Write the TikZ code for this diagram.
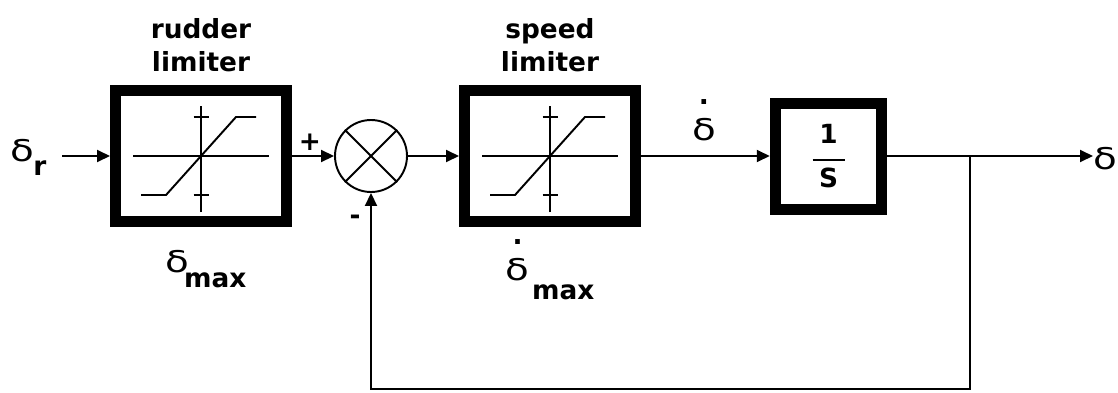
\documentclass[tikz,border=0pt]{standalone}
\usepackage{amsmath}
\usepackage{graphicx}
\usepackage{fontspec}
\setmainfont{DejaVu Sans}
\usetikzlibrary{arrows.meta,positioning}
\newcommand{\dlt}{\scalebox{1.3}[1]{\fontsize{17}{17}\selectfont δ}}
\newcommand{\deldot}{\makebox[0pt][l]{\makebox[13.5pt][c]{\raisebox{20pt}{\bfseries .}}}\dlt}

\begin{document}
\begin{tikzpicture}[
    >={Triangle[length=0.26cm,width=0.24cm]},
    line width=1.1pt,
    every node/.style={font=\fontsize{15}{19.5}\selectfont},
    block/.style={
        draw,
        line width=0.22cm,
        minimum width=3.42cm,
        minimum height=2.62cm,
        inner sep=0pt
    },
    intblock/.style={block, minimum width=2.13cm, minimum height=2.12cm},
    sumnode/.style={draw, circle, minimum size=1.44cm, inner sep=0pt},
    title/.style={align=center, inner sep=0pt, font=\fontsize{15}{19}\selectfont\bfseries},
    sig/.style={inner sep=0pt},
    sign/.style={font=\fontsize{15}{19}\selectfont\bfseries},
    arrow/.style={->}
]
\useasboundingbox (0,0) rectangle (22.36,7.84);

% Blocks.
\node[block] (rudder) at (4.02,4.72) {};
\node[sumnode] (sum) at (7.42,4.72) {};
\node[block] (speed) at (11.0,4.72) {};
\node[intblock] (integ) at (16.57,4.72)
    {$\genfrac{}{}{1pt}{0}{\makebox[0.64cm]{\bfseries 1}\rule[-6pt]{0pt}{6pt}}{\text{\bfseries S}\rule{0pt}{12pt}}$};
\draw (sum.north east) -- (sum.south west);
\draw (sum.north west) -- (sum.south east);

% Limiter curves.
\foreach \b in {rudder,speed} {
    \draw ([xshift=-1.36cm]\b.center) -- ([xshift=1.36cm]\b.center);
    \draw ([yshift=-1.12cm]\b.center) -- ([yshift=1.0cm]\b.center);
    \draw ([shift={(-0.15,0.78)}]\b.center) -- ++(0.3,0);
    \draw ([shift={(-0.15,-0.78)}]\b.center) -- ++(0.3,0);
    \draw ([shift={(-1.2,-0.78)}]\b.center) -- ++(0.5,0) -- ++(1.4,1.56) -- ++(0.4,0);
}

% Labels.
\node[title, above=0.24cm of rudder] (rudtitle) {rudder\\limiter};
\node[title, above=0.24cm of speed] (spdtitle) {speed\\limiter};
\node[sig, below=0.44cm of rudder, xshift=0.1cm] (rudmax)
    {\dlt\hspace{-0.2em}\raisebox{-9pt}{\bfseries max}};
\node[sig, below=0.24cm of speed] (spdmax)
    {\deldot\hspace{0.1em}\raisebox{-11pt}{\bfseries max}};
\node[sig, anchor=base] (rate) at (14.08,5.04) {\deldot};
\node[sign] (plus) at (6.2,5.0) {+};
\node[sign] (minus) at (7.1,3.44) {-};

% Signals.
\node[sig, anchor=base west] (dr) at (0.2,4.62) {\dlt\hspace{-0.05em}\raisebox{-8pt}{\bfseries r}};
\node[sig, anchor=base west] (dout) at (21.86,4.45) {\dlt};
\draw[arrow, shorten <=0.3cm] (dr.east |- rudder.west) -- (rudder.west);
\draw[arrow] (rudder.east) -- (sum.west);
\draw[arrow] (sum.east) -- (speed.west);
\draw[arrow] (speed.east) -- (integ.west);
\draw[arrow] (integ.east) -- (dout.west |- integ.east);

% Feedback.
\coordinate (branch) at (19.4,4.72);
\coordinate (fb) at (19.4,0.06);
\draw[arrow] (branch) -- (fb) -| (sum.south);

\end{tikzpicture}
\end{document}
